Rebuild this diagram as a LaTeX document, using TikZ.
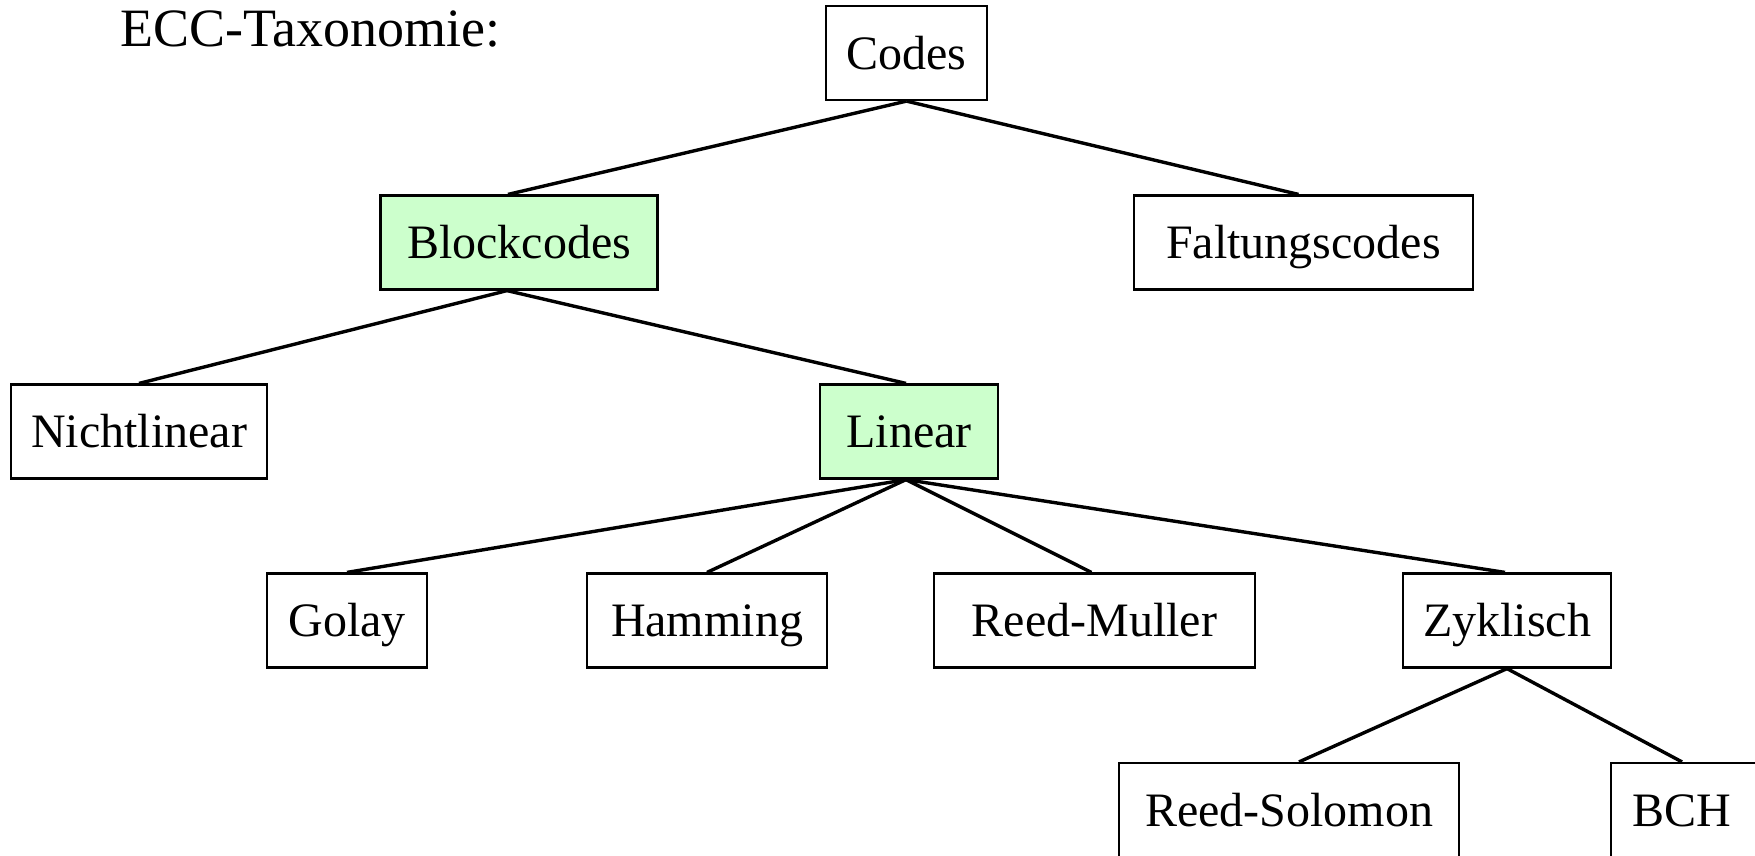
\documentclass[tikz,border=0pt]{standalone}
\usepackage{fontspec}
\setmainfont{Liberation Serif}
\definecolor{leafgreen}{HTML}{CCFFCC}
\tikzset{
  box/.style={draw=black, line width=2.2pt, fill=white, inner sep=0pt,
              minimum height=94pt, text height=38pt, text depth=6pt,
              font=\fontsize{48}{56}\selectfont},
  hilite/.style={box, fill=leafgreen},
  edge/.style={draw=black, line width=3.4pt},
  title/.style={anchor=base west, inner sep=0pt, font=\fontsize{54}{62}\selectfont}
}
\begin{document}
\begin{tikzpicture}[x=1pt, y=-1pt]
  \clip (0,0) rectangle (1755,855);
  \useasboundingbox (0,0) rectangle (1755,855);

  \node[title] (heading) at (120,46) {ECC-Taxonomie:};

  % levels of the tree
  \node[box,    minimum width=161pt] (codes) at (906.5,53)  {Codes};
  \node[hilite, minimum width=277pt] (block) at (519,242.5) {Blockcodes};
  \node[box,    minimum width=339pt] (falt)  at (1303.5,242.5) {Faltungscodes};
  \node[box,    minimum width=256pt] (nlin)  at (139,431.5) {Nichtlinear};
  \node[hilite, minimum width=178pt] (lin)   at (909,431.5) {Linear};
  \node[box,    minimum width=160pt] (golay) at (347,620.5) {Golay};
  \node[box,    minimum width=240pt] (hamm)  at (707,620.5) {Hamming};
  \node[box,    minimum width=321pt] (rm)    at (1094.5,620.5) {Reed-Muller};
  \node[box,    minimum width=208pt] (zyk)   at (1507,620.5) {Zyklisch};
  \node[box,    minimum width=340pt] (rs)    at (1289,810) {Reed-Solomon};
  \node[box,    minimum width=154pt] (bch)   at (1688,810) {\kern-12pt BCH};

  % connectors
  \draw[edge] (codes.south) -- ([xshift=-11pt]block.north);
  \draw[edge] (codes.south) -- ([xshift=-5pt]falt.north);
  \draw[edge] ([xshift=-12pt]block.south) -- (nlin.north);
  \draw[edge] ([xshift=-12pt]block.south) -- ([xshift=-3pt]lin.north);
  \draw[edge] ([xshift=-3pt]lin.south) -- (golay.north);
  \draw[edge] ([xshift=-3pt]lin.south) -- (hamm.north);
  \draw[edge] ([xshift=-3pt]lin.south) -- ([xshift=-3pt]rm.north);
  \draw[edge] ([xshift=-3pt]lin.south) -- ([xshift=-2pt]zyk.north);
  \draw[edge] (zyk.south) -- ([xshift=10pt]rs.north);
  \draw[edge] (zyk.south) -- ([xshift=-6pt]bch.north);
\end{tikzpicture}
\end{document}
